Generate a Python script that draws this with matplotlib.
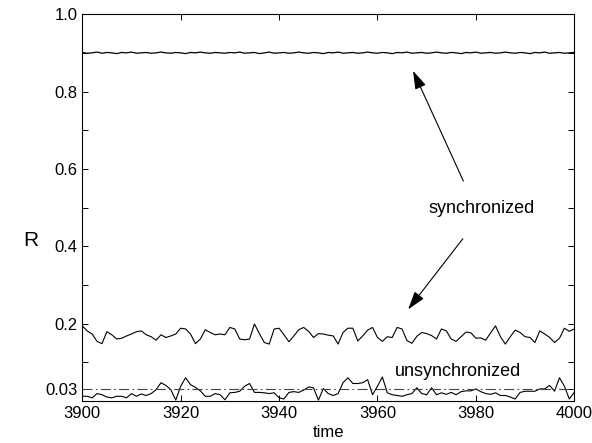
import numpy as np
import matplotlib
matplotlib.use("Agg")
import matplotlib.pyplot as plt

plt.rcParams['font.family'] = ['Liberation Sans', 'DejaVu Sans']

# time axis
time = np.arange(3900, 4001)

# synchronized state, R ~ 0.9
r_sync = [0.901, 0.899, 0.900, 0.902, 0.899, 0.901, 0.900, 0.898, 0.901, 0.900,
          0.902, 0.899, 0.900, 0.901, 0.899, 0.900, 0.902, 0.900, 0.899, 0.901,
          0.900, 0.898, 0.901, 0.900, 0.902, 0.900, 0.899, 0.901, 0.900, 0.899,
          0.901, 0.900, 0.902, 0.899, 0.900, 0.901, 0.898, 0.900, 0.902, 0.899,
          0.900, 0.901, 0.899, 0.900, 0.902, 0.900, 0.899, 0.901, 0.900, 0.898,
          0.901, 0.900, 0.902, 0.899, 0.900, 0.901, 0.899, 0.900, 0.902, 0.900,
          0.899, 0.901, 0.900, 0.898, 0.901, 0.900, 0.902, 0.899, 0.900, 0.901,
          0.899, 0.900, 0.902, 0.900, 0.899, 0.901, 0.900, 0.898, 0.901, 0.900,
          0.902, 0.899, 0.900, 0.901, 0.899, 0.900, 0.902, 0.900, 0.899, 0.901,
          0.900, 0.898, 0.901, 0.900, 0.902, 0.899, 0.900, 0.901, 0.899, 0.900,
          0.901]

# synchronized state, R ~ 0.17
r_mid = [0.194, 0.181, 0.173, 0.154, 0.148, 0.179, 0.171, 0.160, 0.162, 0.168,
         0.173, 0.179, 0.181, 0.171, 0.166, 0.157, 0.171, 0.164, 0.168, 0.173,
         0.188, 0.186, 0.173, 0.148, 0.160, 0.184, 0.177, 0.171, 0.173, 0.171,
         0.190, 0.186, 0.160, 0.158, 0.160, 0.199, 0.174, 0.151, 0.147, 0.186,
         0.188, 0.171, 0.153, 0.168, 0.184, 0.190, 0.180, 0.164, 0.174, 0.173,
         0.170, 0.168, 0.147, 0.177, 0.188, 0.188, 0.155, 0.168, 0.183, 0.190,
         0.164, 0.154, 0.166, 0.164, 0.190, 0.186, 0.156, 0.149, 0.167, 0.177,
         0.174, 0.169, 0.160, 0.186, 0.181, 0.160, 0.154, 0.166, 0.178, 0.176,
         0.162, 0.163, 0.157, 0.176, 0.194, 0.166, 0.147, 0.166, 0.183, 0.177,
         0.166, 0.164, 0.151, 0.181, 0.173, 0.164, 0.151, 0.162, 0.188, 0.180,
         0.186]

# unsynchronized state
r_unsync = [0.012, 0.012, 0.008, 0.019, 0.016, 0.010, 0.008, 0.012, 0.012, 0.008,
            0.019, 0.012, 0.018, 0.014, 0.019, 0.029, 0.047, 0.040, 0.029, 0.002,
            0.038, 0.060, 0.042, 0.035, 0.026, 0.012, 0.012, 0.019, 0.016, 0.003,
            0.021, 0.022, 0.025, 0.038, 0.045, 0.022, 0.022, 0.021, 0.019, 0.021,
            0.008, 0.005, 0.022, 0.024, 0.022, 0.028, 0.036, 0.034, 0.002, 0.032,
            0.019, 0.014, 0.019, 0.047, 0.060, 0.045, 0.045, 0.047, 0.055, 0.016,
            0.038, 0.062, 0.021, 0.016, 0.014, 0.012, 0.016, 0.019, 0.034, 0.019,
            0.016, 0.034, 0.016, 0.021, 0.017, 0.022, 0.016, 0.024, 0.026, 0.026,
            0.031, 0.024, 0.019, 0.017, 0.021, 0.014, 0.014, 0.010, 0.005, 0.022,
            0.025, 0.025, 0.025, 0.031, 0.031, 0.040, 0.025, 0.060, 0.038, 0.005,
            0.022]

r_ref = 0.03
yticks = [0.03, 0.2, 0.4, 0.6, 0.8, 1.0]
ytick_labels = ['0.03', '0.2', '0.4', '0.6', '0.8', '1.0']
xticks = [3900, 3920, 3940, 3960, 3980, 4000]

fig = plt.figure(figsize=(5.92, 4.43), dpi=100)
ax = fig.add_axes([0.139, 0.095, 0.831, 0.873])

ax.plot(time, r_sync, color='k', lw=0.9)
ax.plot(time, r_mid, color='k', lw=0.8)
ax.plot(time, r_unsync, color='k', lw=0.8)
ax.axhline(r_ref, color='#444444', lw=0.8, linestyle=(0, (9, 3, 1.5, 3)))

ax.set_xlim(3900, 4000)
ax.set_ylim(0, 1.0)
ax.set_xticks(xticks)
ax.set_yticks(yticks)
ax.set_yticklabels(ytick_labels)
ax.set_yticks(np.arange(0.1, 1.0, 0.1), minor=True)
ax.tick_params(which='both', direction='in', top=True, right=True,
               labelsize=12, width=0.7, length=4)
for s in ax.spines.values():
    s.set_linewidth(0.8)

ax.set_xlabel('time', fontsize=12, labelpad=3)
fig.text(31 / 592, 1 - 240 / 443, 'R', fontsize=15, ha='center', va='center')

ax.text(3981.2, 0.497, 'synchronized', fontsize=13, ha='center', va='center')
ax.text(3976.3, 0.075, 'unsynchronized', fontsize=13, ha='center', va='center')

arrow = dict(arrowstyle='-|>,head_length=0.7,head_width=0.22', color='k',
             lw=0.8, mutation_scale=16)
ax.annotate('', xy=(3967.0, 0.860), xytext=(3977.7, 0.562), arrowprops=arrow)
ax.annotate('', xy=(3965.9, 0.231), xytext=(3977.7, 0.425), arrowprops=arrow)

fig.savefig('out.png', dpi=100)
